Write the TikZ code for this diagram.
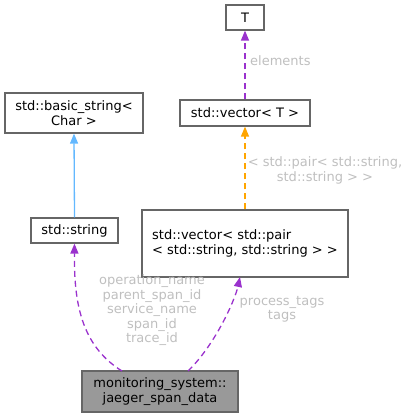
\documentclass[tikz,border=0pt]{standalone}
\usepackage{fontspec}
\setmainfont{DejaVu Sans}
\usetikzlibrary{arrows.meta}
\definecolor{edgepurple}{HTML}{9A32CD}
\definecolor{edgeorange}{HTML}{FFA500}
\definecolor{edgeblue}{HTML}{63B8FF}
\definecolor{lblgray}{HTML}{BFBFBF}
\definecolor{boxborder}{HTML}{666666}
\definecolor{jfill}{HTML}{999999}
\begin{document}
\begin{tikzpicture}[x=1pt,y=-1pt,
  cls/.style={draw=boxborder,line width=1.2pt,fill=white,inner sep=0pt,font=\fontsize{13}{14.5}\selectfont,align=center},
  lbl/.style={text=lblgray,font=\fontsize{13}{14.5}\selectfont,align=center,inner sep=0pt},
  tipp/.style={-{Triangle[width=8pt,length=10pt]}},
  pdash/.style={color=edgepurple,dash pattern=on 6pt off 4pt,line width=1.3pt,tipp},
]
\useasboundingbox (0,0) rectangle (408,417);
\node[cls,minimum width=38pt,minimum height=25pt] (T) at (245,17.5) {T};
\node[cls,minimum width=130pt,minimum height=26pt] (vecT) at (245,113) {std::vector< T >};
\node[cls,minimum width=138pt,minimum height=40pt] (bstr) at (74,113) {std::basic\_string<\\Char >};
\node[cls,minimum width=87pt,minimum height=25pt] (str) at (74.5,230.5) {std::string};
\node[cls,minimum width=206pt,minimum height=67pt,align=left] (vecP) at (245,243.5) {std::vector< std::pair\\< std::string, std::string > >};
\node[cls,fill=jfill,minimum width=156pt,minimum height=41pt] (J) at (160,391.5) {monitoring\_system::\\jaeger\_span\_data};

\draw[pdash] (vecT.north) -- (T.south);
\node[lbl,anchor=west] (lelem) at (250,61) {elements};
\draw[color=edgeblue,line width=1.3pt,tipp] (str.north) -- (bstr.south);
\draw[color=edgeorange,dash pattern=on 6pt off 4pt,line width=1.3pt,tipp] (vecP.north) -- (vecT.south);
\node[lbl] (lpair) at (325,170.5) {< std::pair< std::string,\\std::string > >};
\coordinate (js) at (122,371);
\coordinate (jp) at (188,371);
\draw[pdash] (js) .. controls (80,345) and (74,300) .. (str.south);
\draw[pdash] (jp) .. controls (215,345) and (235,300) .. (240,277);
\node[lbl] (lstr) at (152,310.5) {operation\_name\\parent\_span\_id\\service\_name\\span\_id\\trace\_id};
\node[lbl] (ltags) at (282,309.5) {process\_tags\\tags};
\end{tikzpicture}
\end{document}
